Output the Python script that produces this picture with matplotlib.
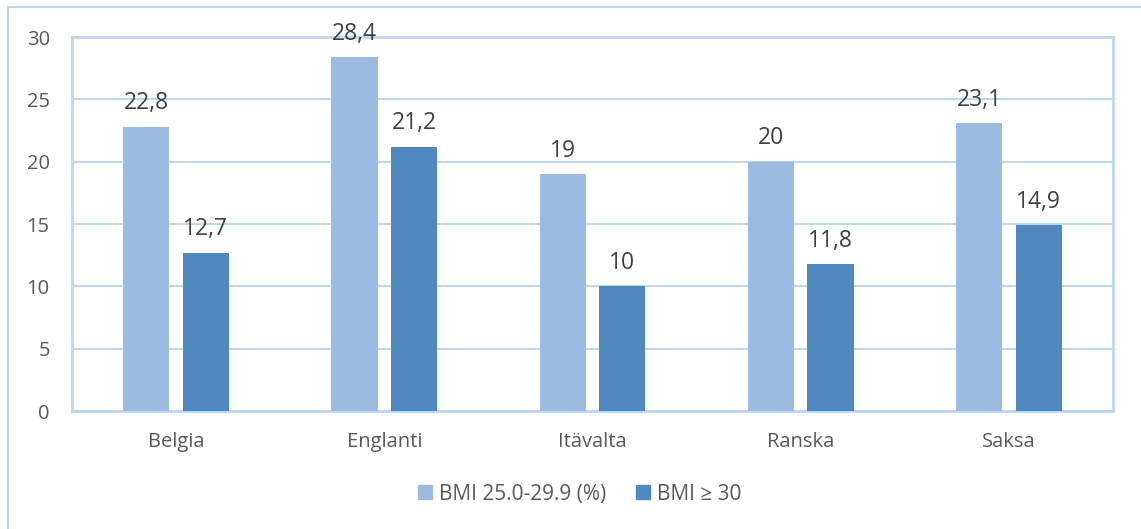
import numpy as np
import matplotlib.pyplot as plt
from matplotlib.lines import Line2D
from matplotlib.patches import Patch

countries = ['Belgia', 'Englanti', 'Itävalta', 'Ranska', 'Saksa']
overweight = [22.8, 28.4, 19, 20, 23.1]
obese = [12.7, 21.2, 10, 11.8, 14.9]
series_names = ['BMI 25.0-29.9 (%)', 'BMI ≥ 30']

light = '#9BBBE0'
dark = '#4F88BE'
frame = '#BDD7EE'
txt = '#595959'

plt.rcParams['font.family'] = ['Open Sans', 'DejaVu Sans']

fig = plt.figure(figsize=(11.41, 5.29), dpi=100)
ax = fig.add_axes([0.0631, 0.223, 0.9124, 0.707])

# outer chart border (only top and left visible)
fig.add_artist(Line2D([8/1141, 8/1141], [0, 1 - 7/529], transform=fig.transFigure, color=frame, lw=1.5))
fig.add_artist(Line2D([8/1141, 1], [1 - 7/529, 1 - 7/529], transform=fig.transFigure, color=frame, lw=1.5))

x = np.arange(len(countries))
w = 0.222
off = 0.143
b1 = ax.bar(x - off, overweight, w, color=light, zorder=3)
b2 = ax.bar(x + off, obese, w, color=dark, zorder=3)

def fmt(v):
    return ('%g' % v).replace('.', ',')

for bars, vals in ((b1, overweight), (b2, obese)):
    for r, v in zip(bars, vals):
        ax.annotate(fmt(v), (r.get_x() + r.get_width() / 2, v), xytext=(0, 12.5),
                    textcoords='offset points', ha='center', va='baseline',
                    fontsize=16.5, color='#404040', annotation_clip=False)

ax.set_xlim(-0.5, len(countries) - 0.5)
ax.set_ylim(0, 30)
ax.set_yticks(range(0, 31, 5))
ax.set_xticks(x)
ax.set_xticklabels(countries)
ax.grid(axis='y', color=frame, lw=1.5, zorder=0)
for s in ax.spines.values():
    s.set_color(frame)
    s.set_linewidth(2)
ax.tick_params(length=0, colors=txt, labelsize=14.5)
ax.tick_params(axis='y', pad=16)
ax.tick_params(axis='x', pad=15)

handles = [Patch(color=light), Patch(color=dark)]
fig.legend(handles, series_names, loc='center', bbox_to_anchor=(0.508, 0.066), ncol=2,
           frameon=False, fontsize=15, labelcolor=txt, handlelength=0.67, handleheight=0.67,
           handletextpad=0.35, columnspacing=1.4)

fig.savefig('out.png', dpi=100)
